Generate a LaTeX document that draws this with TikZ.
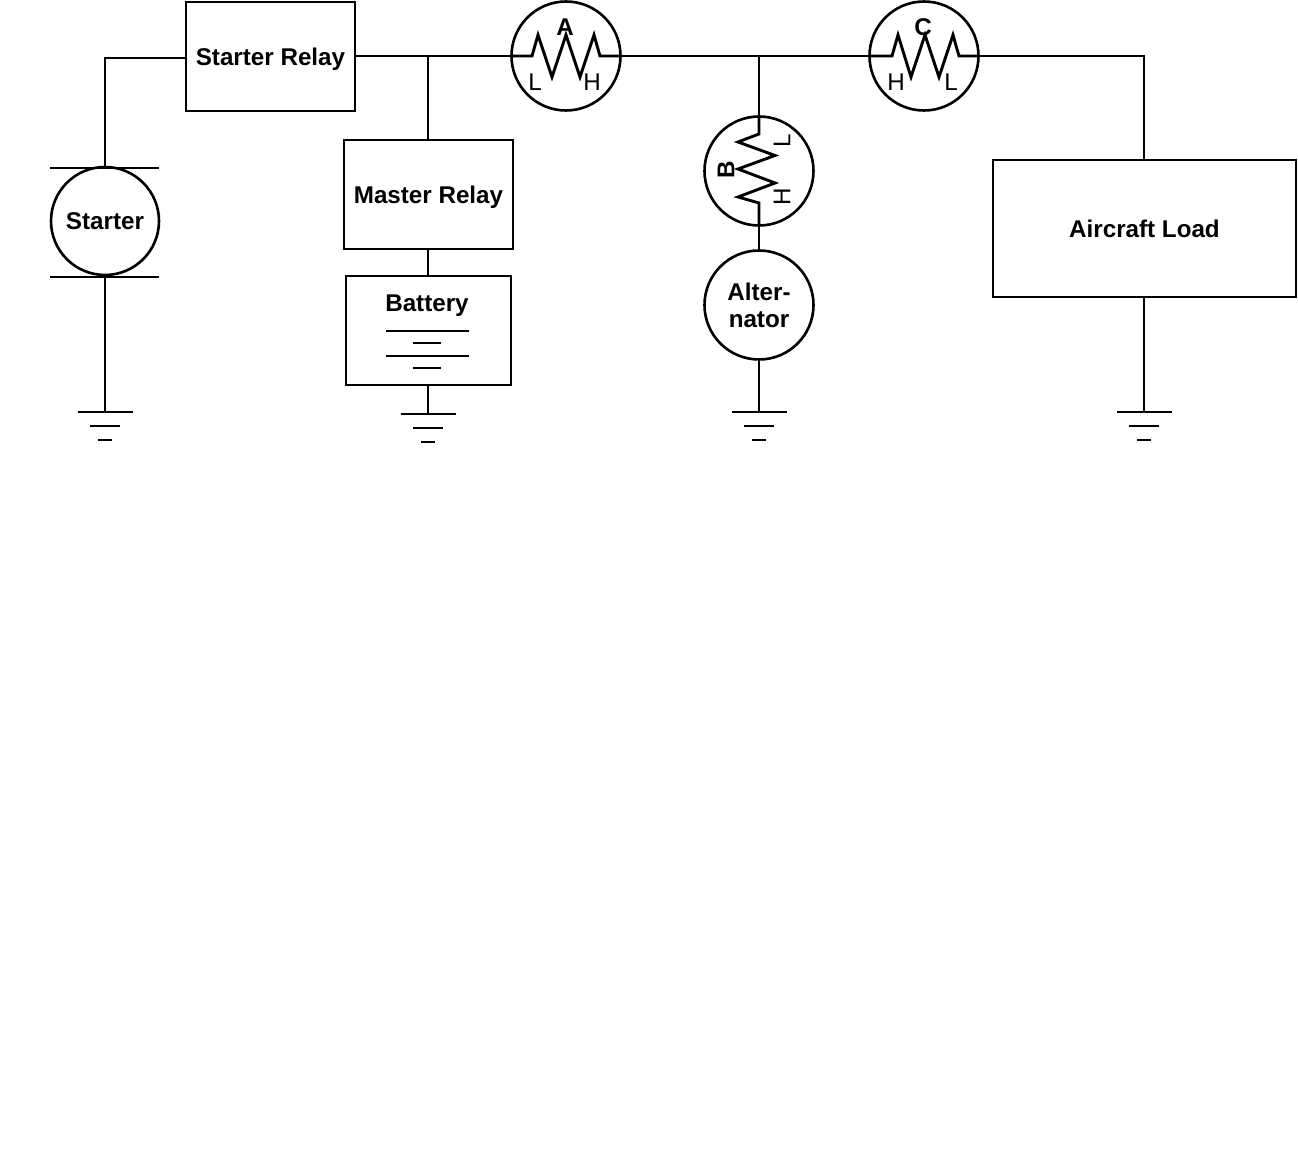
\documentclass[tikz,border=0pt]{standalone}
\usepackage{fontspec}
\setmainfont{Liberation Sans}
\usetikzlibrary{calc}
\tikzset{
  x=0.5pt,y=-0.5pt,
  wire/.style={line width=1.45pt,line join=miter},
  thin wire/.style={line width=1.2pt},
  boxnode/.style={draw,line width=1.4pt,rectangle,inner sep=0pt,font=\fontsize{12.1}{13.6}\selectfont\bfseries,align=center,text depth=0pt},
  meter/.style={draw,line width=1.3pt,circle,minimum size=54.5pt,inner sep=0pt,font=\fontsize{12.1}{13.6}\selectfont\bfseries,align=center},
  boldlabel/.style={inner sep=0pt,font=\fontsize{12.1}{13.6}\selectfont\bfseries},
  pole/.style={inner sep=0pt,font=\fontsize{12.1}{13.6}\selectfont},
}
\newcommand{\groundsym}[1]{%
  \draw[wire] ($(#1)+(-27.5,0)$) -- ($(#1)+(27.5,0)$);
  \draw[wire] ($(#1)+(-15,14)$) -- ($(#1)+(15,14)$);
  \draw[wire] ($(#1)+(-7,28)$) -- ($(#1)+(7,28)$);
}
\begin{document}
\begin{tikzpicture}
\useasboundingbox (0,0) rectangle (1298,1154);
% nodes
\node[boxnode,minimum width=84.5pt,minimum height=54.5pt] (relay) at (270.5,56.5) {Starter Relay};
\node[boxnode,minimum width=84.5pt,minimum height=54.5pt] (master) at (428.5,194.5) {Master Relay};
\node[boxnode,minimum width=82.5pt,minimum height=54.5pt] (battery) at (428.5,330.5) {};
\node[boldlabel] (batterytext) at (427,306) {Battery};
\node[boxnode,minimum width=151.5pt,minimum height=68.5pt] (load) at (1144.5,228.5) {Aircraft Load};
\node[meter,minimum size=54pt] (starter) at (105,221) {Starter};
\node[meter] (alternator) at (759,305) {Alter-\\nator};
\node[meter] (ma) at (566,56) {};
\node[meter] (mc) at (924,56) {};
\node[meter] (mb) at (759,171) {};
% junctions and free ends
\coordinate (corner1) at (105,58);
\coordinate (j1) at (428,56);
\coordinate (j2) at (759,56);
\coordinate (corner2) at (1144,56);
\coordinate (g1) at (105,412);
\coordinate (g2) at (428,414);
\coordinate (g3) at (759,412);
\coordinate (g4) at (1144,412);
% wires
\draw[wire] (relay.west |- corner1) -- (corner1) -- (starter.north);
\draw[wire] (starter.south) -- (g1);
\draw[wire] (relay.east |- ma.west) -- (ma.west);
\draw[wire] (j1) -- (j1 |- master.north);
\draw[wire] (j1 |- master.south) -- (j1 |- battery.north);
\draw[wire] (j1 |- battery.south) -- (g2);
\draw[wire] (ma.east) -- (mc.west);
\draw[wire] (j2) -- (mb.north);
\draw[wire] (mb.south) -- (alternator.north);
\draw[wire] (alternator.south) -- (g3);
\draw[wire] (mc.east) -- (corner2) -- (corner2 |- load.north);
\draw[wire] (g4 |- load.south) -- (g4);
% grounds
\groundsym{g1}\groundsym{g2}\groundsym{g3}\groundsym{g4}
% starter brush lines
\draw[wire] (50,168) -- (159,168);
\draw[wire] (50,277) -- (159,277);
% battery plates
\draw[thin wire] (386,331) -- (469,331);
\draw[thin wire] (413,343) -- (441,343);
\draw[thin wire] (386,356) -- (469,356);
\draw[thin wire] (413,368) -- (441,368);
% resistor A
\draw[wire] (ma.west) -- (532,56) -- (538,35) -- (552,77) -- (566,35) -- (580,77) -- (594,35) -- (600,56) -- (ma.east);
% resistor C
\draw[wire] (mc.west) -- (892,56) -- (898,35) -- (911,77) -- (925,35) -- (939,77) -- (953,35) -- (959,56) -- (mc.east);
% resistor B
\draw[wire] (mb.north) -- (759,134) -- (738,142) -- (775,155.5) -- (738,169) -- (775,183) -- (738,197) -- (759,203) -- (mb.south);
% labels
\node[boldlabel] (labela) at (565,27) {A};
\node[pole] (la) at (535,82) {L};
\node[pole] (ha) at (592,82) {H};
\node[boldlabel] (labelc) at (923,27) {C};
\node[pole] (hc) at (896,82) {H};
\node[pole] (lc) at (951,82) {L};
\node[boldlabel,rotate=90] (labelb) at (726,170) {B};
\node[pole,rotate=90] (lb) at (782,141) {L};
\node[pole,rotate=90] (hb) at (782,197) {H};
\end{tikzpicture}
\end{document}
